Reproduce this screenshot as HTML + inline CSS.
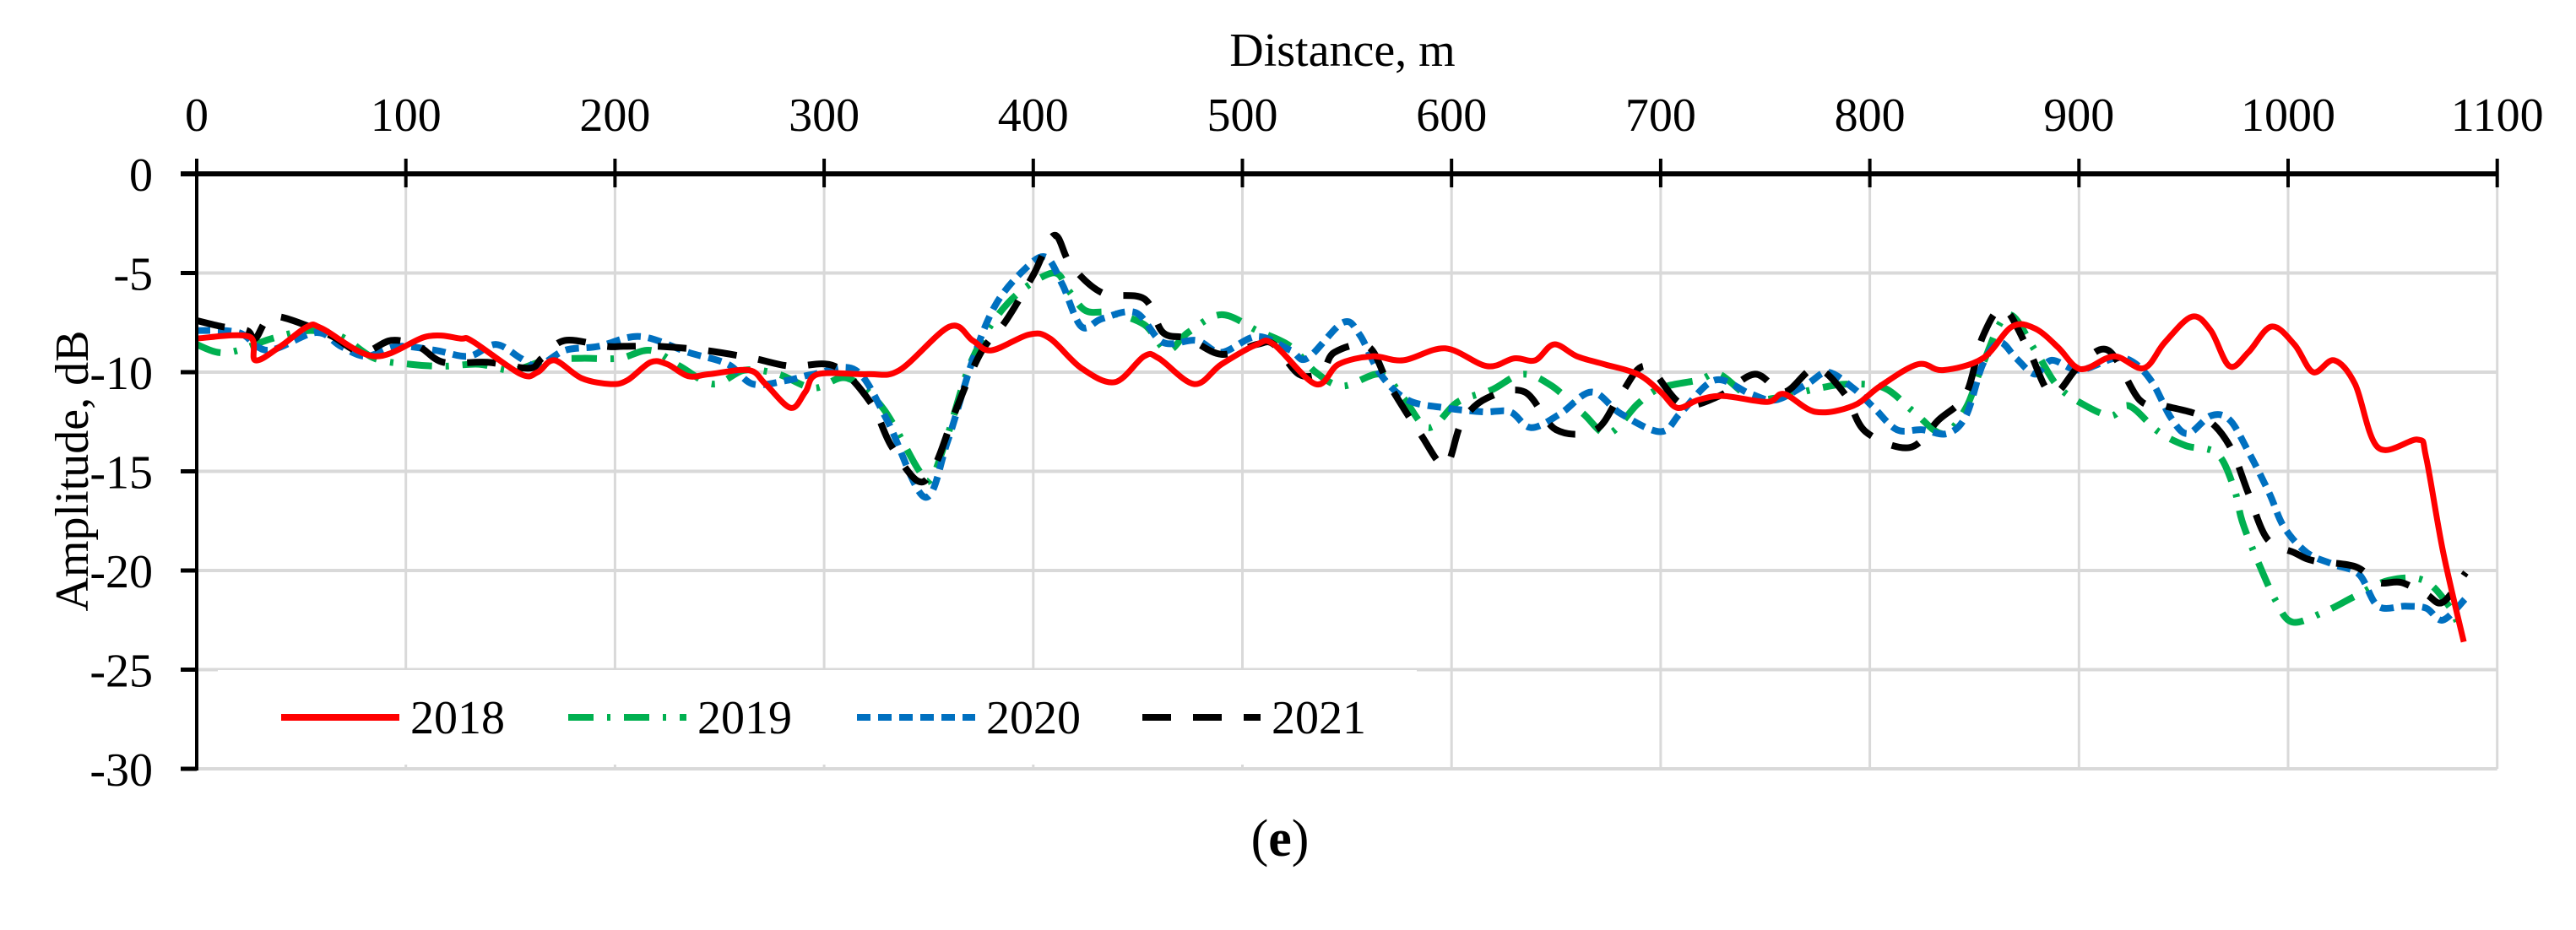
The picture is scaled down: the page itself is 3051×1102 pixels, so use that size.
<!DOCTYPE html>
<html><head><meta charset="utf-8"><style>
html,body{margin:0;padding:0;background:#fff;}
svg{display:block;font-family:"Liberation Serif",serif;}
</style></head><body>
<svg id="chart" width="3051" height="1102" viewBox="0 0 3051 1102" xmlns="http://www.w3.org/2000/svg">
<rect width="3051" height="1102" fill="#fff"/>
<g id="grid"></g>
<g id="series"></g>
<g id="axes"></g>
<text x="1590" y="78" font-size="56" text-anchor="middle">Distance, m</text>
<text transform="translate(104,558) rotate(-90)" font-size="56" text-anchor="middle">Amplitude, dB</text>
<g id="legend"></g>
<text x="1516" y="1014" font-size="62" text-anchor="middle">(<tspan font-weight="bold">e</tspan>)</text>
</svg>
<script>
const xTicks=[0,100,200,300,400,500,600,700,800,900,1000,1100];
const yTicks=[0,-5,-10,-15,-20,-25,-30];
const seriesNames=["2018","2019","2020","2021"];
const x2018=[0,25,28,40,53,60,85,110,126,132,155,163,171,184,198,206,217,225,235,245,264,272,284,291,297,321,336,360,371,380,398,408,423,439,453,460,477,490,507,515,535,546,562,577,597,617,630,640,649,660,673,689,700,708,718,730,751,759,774,792,805,823,835,854,868,879,890,898,904,917,931,941,954,963,972,981,992,1003,1012,1022,1032,1043,1062,1066,1074,1084];
const y2018=[-8.3,-8.2,-9.4,-8.7,-7.7,-7.8,-9.2,-8.2,-8.3,-8.45,-10.1,-10,-9.4,-10.3,-10.6,-10.4,-9.5,-9.6,-10.2,-10.1,-9.9,-10.6,-11.8,-11,-10.1,-10.1,-9.9,-7.7,-8.4,-8.9,-8.1,-8.3,-9.8,-10.5,-9.2,-9.3,-10.6,-9.6,-8.6,-8.6,-10.6,-9.6,-9.2,-9.4,-8.8,-9.7,-9.3,-9.4,-8.6,-9.2,-9.6,-10.1,-11,-11.8,-11.4,-11.2,-11.5,-11.1,-12,-11.7,-10.7,-9.6,-9.9,-9.3,-7.7,-7.8,-8.75,-9.7,-9.8,-9.2,-9.8,-8.5,-7.2,-7.9,-9.7,-9.0,-7.7,-8.6,-10.0,-9.4,-10.6,-13.8,-13.4,-14.3,-19,-23.6];
const x2019=[0,10,20,36,54,69,85,102,118,135,151,167,184,202,217,231,247,262,278,295,311,328,345,351,359,371,388,409,417,425,437,453,464,474,490,507,523,535,548,566,577,589,603,619,634,648,663,675,689,700,718,728,743,755,776,790,807,821,835,846,854,866,879,889,900,915,924,938,951,966,974,978,985,994,1002,1017,1032,1048,1065,1077,1082];
const y2019=[-8.6,-9,-8.9,-8.3,-7.9,-8.2,-9.3,-9.6,-9.7,-9.6,-9.9,-9.4,-9.3,-9.3,-8.9,-9.7,-10.6,-9.9,-10.1,-10.8,-10.3,-11.8,-14.9,-15.4,-13.2,-9.3,-6.5,-5,-5.9,-6.9,-7,-7.6,-8.9,-8,-7.1,-7.9,-8.7,-10,-10.7,-10.1,-11.3,-12.8,-11.5,-10.9,-10.1,-10.7,-12.1,-13.1,-11.6,-10.8,-10.4,-10.1,-11.3,-11.3,-10.8,-10.6,-10.8,-12,-13.1,-11.8,-9.6,-7.1,-8.9,-10.6,-11.5,-12.2,-11.7,-13,-13.7,-14.1,-15.8,-17.5,-19.4,-21.5,-22.6,-22.1,-21.3,-20.5,-20.5,-21.8,-22.9];
const x2020=[0,20,34,57,69,81,96,114,130,143,155,163,176,192,212,235,254,266,283,295,315,330,348,359,371,382,396,406,414,423,433,449,462,478,490,507,523,531,548,556,566,579,597,615,628,638,652,667,681,700,710,726,743,755,770,780,792,802,813,825,837,846,854,862,870,879,887,900,917,926,935,944,952,963,972,981,991,998,1009,1022,1034,1043,1056,1066,1074,1085];
const y2020=[-7.9,-8,-8.9,-8,-8.7,-9.2,-8.7,-8.9,-9.2,-8.6,-9.3,-9.7,-8.9,-8.7,-8.2,-9,-9.6,-10.6,-10.4,-10.1,-9.9,-12.4,-16.3,-13.5,-9.4,-6.6,-4.8,-4.2,-5.6,-7.7,-7.3,-7,-8.5,-8.4,-9,-8.2,-8.9,-9.3,-7.5,-8.1,-10.1,-11.4,-11.8,-12,-12,-12.8,-12.1,-11,-12.1,-13,-12,-10.4,-11.1,-11.4,-10.6,-10,-10.8,-11.8,-12.9,-12.9,-13.1,-12.2,-9.6,-8.5,-9.3,-10.1,-9.4,-9.9,-9.3,-9.5,-10.5,-12.3,-13.1,-12.2,-12.4,-14,-16.1,-17.8,-19.1,-19.7,-20.2,-21.8,-21.8,-21.9,-22.5,-21.4];
const x2021=[0,12,24,28,36,54,65,79,93,106,118,139,159,165,176,196,204,221,243,266,284,305,322,332,345,353,363,375,387,400,410,418,433,453,462,474,490,507,515,527,538,544,560,570,585,597,605,617,635,650,669,681,693,710,728,745,759,774,788,798,819,833,846,854,864,876,887,900,914,929,941,960,972,981,990,1003,1012,1032,1043,1054,1066,1074,1085];
const y2021=[-7.4,-7.7,-7.9,-8.3,-7.2,-7.7,-8.2,-9,-8.4,-8.7,-9.5,-9.5,-9.8,-9.3,-8.4,-8.7,-8.7,-8.7,-8.9,-9.3,-9.7,-9.7,-11.5,-13.7,-15.5,-14.7,-11.9,-9,-7.4,-5.1,-3.1,-4.6,-6,-6.3,-8,-8.3,-9.1,-8.6,-8.6,-10.1,-10,-9,-8.7,-10.6,-13.1,-14.7,-12.5,-11.3,-11,-12.9,-12.9,-11.1,-9.7,-11.6,-11.2,-10.1,-11,-9.8,-11.1,-13,-13.8,-12.4,-11.1,-8.2,-6.8,-8.9,-11.1,-9.7,-8.9,-11.4,-11.7,-12.3,-13.7,-16.1,-18.4,-19.1,-19.5,-19.8,-20.6,-20.6,-21.2,-21.6,-20.1];

const NS="http://www.w3.org/2000/svg";
const X0=233,PXPERM=247.7/100,Y0=206,PXPERDB=23.5;
function sx(v){return X0+v*PXPERM;}
function sy(v){return Y0-v*PXPERDB;}
function mk(tag,attrs,parent){const e=document.createElementNS(NS,tag);for(const k in attrs)e.setAttribute(k,attrs[k]);parent.appendChild(e);return e;}
const grid=document.getElementById('grid'),axes=document.getElementById('axes'),ser=document.getElementById('series'),leg=document.getElementById('legend');
const yBot=sy(-30),xRight=sx(1100);
yTicks.forEach(t=>{if(t===0)return;
 const l=mk('line',{x1:X0,x2:xRight,y1:sy(t),y2:sy(t),stroke:'#d9d9d9','stroke-width':4},grid);
 
 
});
xTicks.forEach(t=>{if(t===0)return;
 const l=mk('line',{x1:sx(t),x2:sx(t),y1:Y0,y2:yBot,stroke:'#d9d9d9','stroke-width':3},grid);
 
 
});
// legend background
const lb=mk('rect',{x:258,y:794,width:1420,height:112,fill:'#fff'},leg);


// axes
const xa=mk('line',{x1:214,x2:xRight,y1:Y0,y2:Y0,stroke:'#000','stroke-width':6},axes);


const ya=mk('line',{x1:X0,x2:X0,y1:Y0-18,y2:yBot+2,stroke:'#000','stroke-width':4},axes);


xTicks.forEach(t=>{
 const k=mk('line',{x1:sx(t),x2:sx(t),y1:188,y2:222,stroke:'#000','stroke-width':4},axes);
 
 
 const tx=mk('text',{x:sx(t),y:155,'font-size':56,'text-anchor':'middle'},axes);
 tx.textContent=t;
 
 
});
yTicks.forEach(t=>{
 const k=mk('line',{x1:214,x2:X0,y1:sy(t),y2:sy(t),stroke:'#000','stroke-width':5},axes);
 
 
 const tx=mk('text',{x:181,y:sy(t)+20,'font-size':56,'text-anchor':'end'},axes);
 tx.textContent=t;
 
 
});
const styles=[{c:'#ff0000',d:''},{c:'#00b050',d:'30 16 4 16'},{c:'#0070c0',d:'16 9'},{c:'#000000',d:'34 26'}];
const xs=[x2018,x2019,x2020,x2021],ys=[y2018,y2019,y2020,y2021];
function smooth(px,py){let d='M'+px[0]+','+py[0];
 for(let i=0;i<px.length-1;i++){const p0=i?i-1:i,p3=i+2<px.length?i+2:i+1;
  const c1x=px[i]+(px[i+1]-px[p0])/6,c1y=py[i]+(py[i+1]-py[p0])/6,c2x=px[i+1]-(px[p3]-px[i])/6,c2y=py[i+1]-(py[p3]-py[i])/6;
  d+=' C'+c1x.toFixed(1)+','+c1y.toFixed(1)+' '+c2x.toFixed(1)+','+c2y.toFixed(1)+' '+px[i+1].toFixed(1)+','+py[i+1].toFixed(1);}
 return d;}
[1,2,3,0].forEach(i=>{
 const px=xs[i].map(sx),py=ys[i].map(sy);
 const p=mk('path',{d:smooth(px,py),fill:'none',stroke:styles[i].c,'stroke-width':i===0?7:8,'stroke-dasharray':styles[i].d,'stroke-linejoin':'round'},ser);
 
 
});
const legX=[333,673,1015,1353];
seriesNames.forEach((n,i)=>{
 const l=mk('line',{x1:legX[i],x2:legX[i]+140,y1:850,y2:850,stroke:styles[i].c,'stroke-width':8,'stroke-dasharray':styles[i].d},leg);
 
 
 const t=mk('text',{x:legX[i]+153,y:869,'font-size':56},leg);
 t.textContent=n;
 
 
});
</script>
</body></html>
